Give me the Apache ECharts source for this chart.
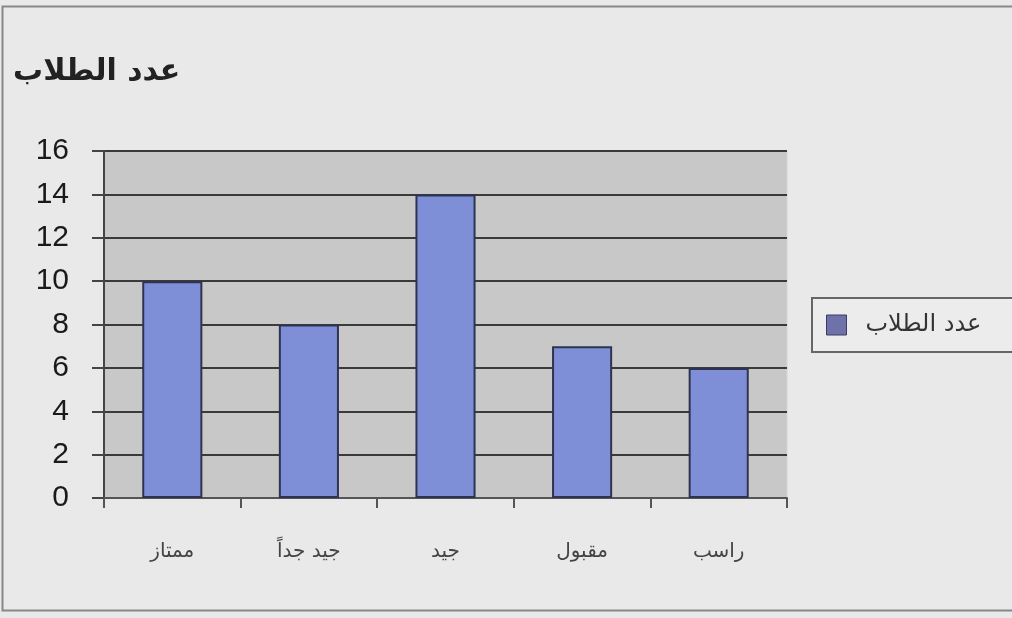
<!DOCTYPE html>
<html><head><meta charset="utf-8">
<script src="https://cdn.jsdelivr.net/npm/echarts@6/dist/echarts.min.js"></script>
<style>html,body{margin:0;padding:0;background:#e9e9e9;}#c{width:1012px;height:618px;}</style>
</head><body><div id="c"></div>
<script>
const categories = ['ممتاز', 'جيد جداً', 'جيد', 'مقبول', 'راسب'];
const values = [10, 8, 14, 7, 6];
const seriesName = 'عدد الطلاب';
const titleText = 'عدد الطلاب';

const chart = echarts.init(document.getElementById('c'));
chart.setOption({
  backgroundColor: '#e9e9e9',
  animation: false,
  title: {
    text: titleText, left: 8, top: 52,
    textStyle: {fontFamily: 'DejaVu Sans', fontSize: 30, fontWeight: 'bold', color: '#222'}
  },
  legend: {
    left: 812, top: 298, orient: 'vertical',
    backgroundColor: '#ececec', borderColor: '#666', borderWidth: 2,
    padding: [15, 60, 15, 14],
    itemWidth: 20, itemHeight: 20, itemGap: 8,
    icon: 'rect',
    itemStyle: {color: '#6e72a8', borderColor: '#3a3d60', borderWidth: 1},
    textStyle: {fontFamily: 'DejaVu Sans', fontSize: 24, color: '#333', padding: [0, 0, 0, 14]},
    data: [seriesName]
  },
  grid: {
    left: 104, right: 225, top: 151, bottom: 120,
    show: true, backgroundColor: '#c8c8c8', borderColor: '#d6d6d6', borderWidth: 1
  },
  xAxis: {
    type: 'category', data: categories,
    axisLine: {show: true, lineStyle: {color: '#555', width: 2}},
    axisTick: {show: true, length: 10, lineStyle: {color: '#555', width: 2}},
    axisLabel: {margin: 44, fontFamily: 'DejaVu Sans', fontSize: 20, color: '#444'}
  },
  yAxis: {
    type: 'value', min: 0, max: 16, interval: 2,
    axisLine: {show: true, lineStyle: {color: '#444', width: 2}},
    axisTick: {show: true, length: 12, lineStyle: {color: '#444', width: 2}},
    axisLabel: {margin: 35, fontFamily: 'Liberation Sans', fontSize: 30, color: '#1a1a1a'},
    splitLine: {show: true, lineStyle: {color: '#3a3a3a', width: 2}}
  },
  series: [{
    name: seriesName, type: 'bar', data: values, barWidth: '44%',
    itemStyle: {color: '#7e8fd8', borderColor: '#2e3450', borderWidth: 2}
  }],
  graphic: [{
    type: 'rect', left: 0, top: 4, silent: true,
    shape: {width: 1020, height: 604},
    style: {fill: 'none', stroke: '#888', lineWidth: 2}
  }]
});
</script></body></html>
